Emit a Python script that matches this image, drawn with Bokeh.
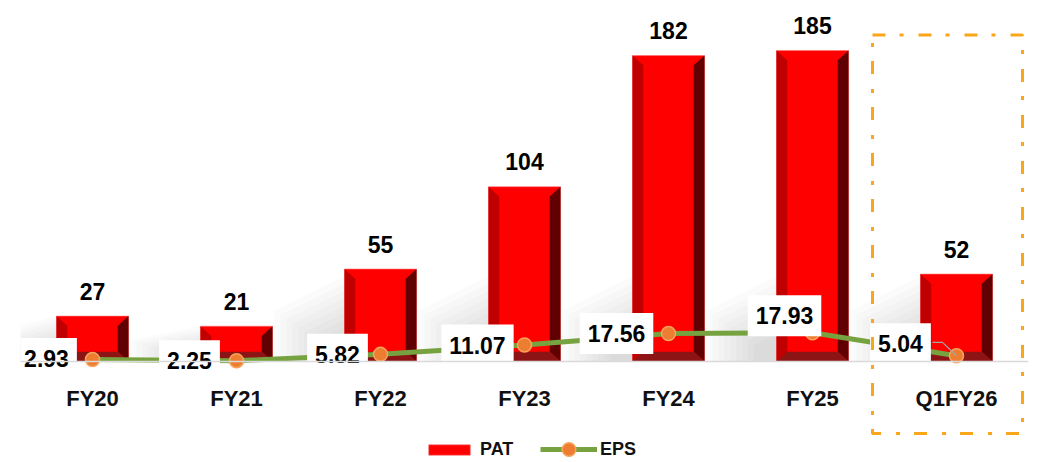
from bokeh.plotting import figure
from bokeh.models import Range1d, FactorRange, ColumnDataSource, Legend, LegendItem, BoxAnnotation, Span
from bokeh.core.properties import value
from bokeh.embed import file_html
from bokeh.resources import INLINE

# ---- data ----
categories = ["FY20", "FY21", "FY22", "FY23", "FY24", "FY25", "Q1FY26"]
pat = [27, 21, 55, 104, 182, 185, 52]
eps = [2.93, 2.25, 5.82, 11.07, 17.56, 17.93, 5.04]
pat_labels = ["27", "21", "55", "104", "182", "185", "52"]
eps_labels = ["2.93", "2.25", "5.82", "11.07", "17.56", "17.93", "5.04"]
highlight = "Q1FY26"

# ---- styling / layout constants ----
PX_PER_CAT = 144.0
PX_PER_PAT = 311.0 / 185.0
eps_dx = [-46, -47, -43, -47, -52, -28, -56]   # label offsets (px)
eps_dy = [-1, 0, 0, 0, 0, -17, -12]

FONT = value("Liberation Sans")

p = figure(width=1038, height=462,
           x_range=FactorRange(*categories),
           y_range=Range1d(-60.08, 214.75),
           output_backend="svg", toolbar_location=None,
           x_axis_location=None, y_axis_location=None,
           min_border_left=20, min_border_right=10,
           min_border_top=0, min_border_bottom=0)
p.extra_y_ranges = {"eps": Range1d(-55.04, 204.96)}
p.grid.visible = False
p.outline_line_color = None
p.background_fill_color = "white"

n = len(categories)
xc = [i + 0.5 for i in range(n)]
hw = 36 / PX_PER_CAT
bx = 11 / PX_PER_CAT
by = 10 / PX_PER_PAT

# ---- soft shadows cast to the upper-left of each bar ----
NL = 9
for k in range(NL):
    s = 1.0 - 0.085 * k
    sh_xs, sh_ys = [], []
    for c, h in zip(xc, pat):
        xl = c - hw
        hpx = min(h * PX_PER_PAT, 85.0) * s
        wpx = 70.0 * s
        sh_xs.append([xl, xl, xl - wpx / PX_PER_CAT, xl - wpx / PX_PER_CAT])
        sh_ys.append([0, hpx / PX_PER_PAT, hpx * 0.6 / PX_PER_PAT, 0])
    p.patches(sh_xs, sh_ys, fill_color="#7A7A7A", fill_alpha=0.028, line_color=None)

# baseline
p.add_layout(Span(location=0, dimension="width", line_color="#D9D9D9", line_width=1.5))

# ---- bevelled bars ----
base = p.vbar(x=categories, top=pat, width=2 * hw, fill_color="#FF0000",
              line_color="#FF7070", line_width=0.6)

left_xs, left_ys, right_xs, right_ys, bot_xs, bot_ys = [], [], [], [], [], []
for c, h in zip(xc, pat):
    xl, xr = c - hw, c + hw
    left_xs.append([xl, xl, xl + bx, xl + bx]); left_ys.append([0, h, h - by, by])
    right_xs.append([xr, xr, xr - bx, xr - bx]); right_ys.append([0, h, h - by, by])
    bot_xs.append([xl, xr, xr - bx, xl + bx]); bot_ys.append([0, 0, by, by])
p.patches(left_xs, left_ys, fill_color="#C00000", line_color=None)
p.patches(right_xs, right_ys, fill_color="#600000", line_color=None)
p.patches(bot_xs, bot_ys, fill_color="#8C1414", line_color=None)
p.vbar(x=categories, bottom=by, top=[h - by for h in pat], width=2 * (hw - bx),
       fill_color="#FF0000", line_color=None)

# PAT value labels
p.text(x=categories, y=pat, text=pat_labels, y_offset=-25,
       text_align="center", text_baseline="middle",
       text_font=FONT, text_font_size="23px", text_font_style="bold",
       text_color="black")

# category labels
p.text(x=categories, y=[0] * n, text=categories, y_offset=37,
       text_align="center", text_baseline="middle",
       text_font=FONT, text_font_size="22px", text_font_style="bold",
       text_color="#111111")

# ---- EPS line ----
eline = p.line(x=categories, y=eps, y_range_name="eps",
               line_color="#76A33F", line_width=5)
escat = p.scatter(x=categories, y=eps, y_range_name="eps", size=14,
                  fill_color="#ED7D31", line_color="#F7A35C", line_width=1.5)

# leader line for the highlighted label
hi = categories.index(highlight)
hv = eps[hi]
p.line(x=[xc[hi] - 24 / PX_PER_CAT, xc[hi] - 14 / PX_PER_CAT, xc[hi]],
       y=[hv + 7.5, hv + 7.5, hv], y_range_name="eps",
       line_color="#A6A6A6", line_width=1.2)

src = ColumnDataSource(dict(x=categories, y=eps, t=eps_labels, dx=eps_dx, dy=eps_dy))
p.text(x="x", y="y", text="t", x_offset="dx", y_offset="dy", source=src,
       y_range_name="eps", text_align="center", text_baseline="middle",
       text_font=FONT, text_font_size="23px", text_font_style="bold",
       text_color="black", background_fill_color="white", padding=(8, 12))

# ---- highlight box ----
p.add_layout(BoxAnnotation(left=hi + 0.5 - 84 / PX_PER_CAT, right=hi + 0.5 + 66 / PX_PER_CAT,
                           top=max(pat) * 1.05, bottom=-72 / PX_PER_PAT,
                           fill_alpha=0, line_color="#F9A61A", line_alpha=1.0,
                           line_width=3, line_dash="13 14 4 15"))

# ---- legends ----
leg1 = Legend(items=[LegendItem(label="PAT", renderers=[base])],
              location=(403, 2), orientation="horizontal",
              glyph_width=52, glyph_height=13, label_standoff=5,
              label_text_font="Liberation Sans", label_text_font_size="18px",
              label_text_font_style="bold", label_text_color="#111111",
              padding=0, margin=0, border_line_color=None, background_fill_alpha=0)
leg2 = Legend(items=[LegendItem(label="EPS", renderers=[eline, escat])],
              location=(520, -4), orientation="horizontal",
              glyph_width=57, glyph_height=34, label_standoff=3,
              label_text_font="Liberation Sans", label_text_font_size="18px",
              label_text_font_style="bold", label_text_color="#111111",
              padding=0, margin=0, border_line_color=None, background_fill_alpha=0)
p.add_layout(leg1)
p.add_layout(leg2)

open("out.html", "w").write(file_html(p, INLINE))
